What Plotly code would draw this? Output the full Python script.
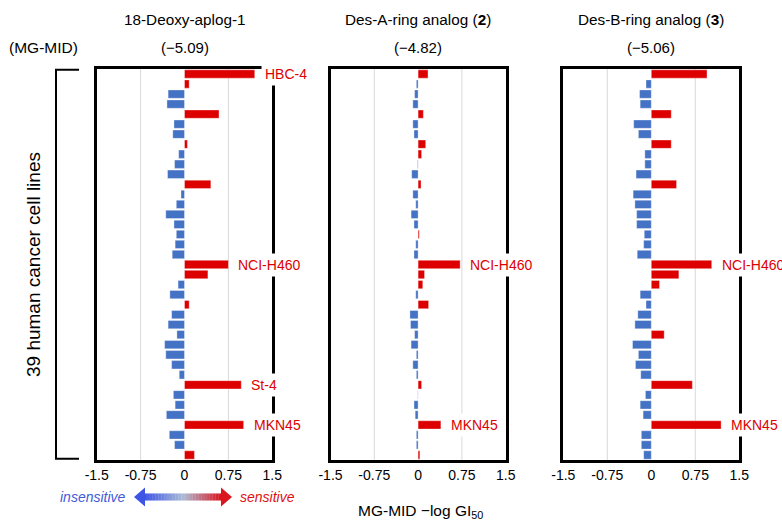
import plotly.graph_objects as go

W, H = 782, 521
FONT = "Liberation Sans, Arial, sans-serif"

# ---------------- data ----------------
cells = list(range(1, 40))  # 39 human cancer cell lines (top to bottom)

deoxy_aplog1 = [1.20, 0.08, -0.28, -0.30, 0.59, -0.18, -0.20, 0.05, -0.10, -0.17,
                -0.29, 0.45, -0.06, -0.14, -0.32, -0.18, -0.14, -0.16, -0.21, 0.75,
                0.40, -0.11, -0.25, 0.08, -0.22, -0.28, -0.13, -0.34, -0.32, -0.22,
                -0.09, 0.97, -0.19, -0.16, -0.31, 1.01, -0.26, -0.17, 0.17]

des_a_ring = [0.17, -0.03, -0.06, -0.09, 0.09, -0.09, -0.07, 0.13, 0.06, -0.01,
              -0.11, 0.05, -0.09, -0.04, -0.12, -0.07, 0.02, -0.04, -0.07, 0.72,
              0.11, 0.08, -0.04, 0.18, -0.14, -0.13, -0.06, -0.12, -0.03, -0.09,
              -0.03, 0.06, -0.005, -0.07, -0.05, 0.39, -0.03, -0.03, 0.03]

des_b_ring = [0.95, -0.09, -0.20, -0.19, 0.34, -0.30, -0.22, 0.34, -0.11, -0.11,
              -0.26, 0.43, -0.31, -0.28, -0.25, -0.25, -0.12, -0.13, -0.24, 1.03,
              0.47, 0.14, -0.19, -0.09, -0.23, -0.28, 0.22, -0.32, -0.22, -0.27,
              -0.18, 0.70, -0.10, -0.19, -0.14, 1.19, -0.17, -0.17, -0.13]

panel_titles = ["18-Deoxy-aplog-1", "Des-A-ring analog (<b>2</b>)", "Des-B-ring analog (<b>3</b>)"]
mg_mid = ["(\u22125.09)", "(\u22124.82)", "(\u22125.06)"]

labels_deoxy = {1: "HBC-4", 20: "NCI-H460", 32: "St-4", 36: "MKN45"}
labels_a = {20: "NCI-H460", 36: "MKN45"}
labels_b = {20: "NCI-H460", 36: "MKN45"}

tick_vals = [-1.5, -0.75, 0, 0.75, 1.5]
tick_text = ["-1.5", "-0.75", "0", "0.75", "1.5"]

# ---------------- layout helpers ----------------
def fx(px):
    return px / W

def fy(py):
    return 1 - py / H

RED = "#DD0000"
BLUE = "#4472C4"

panels = [
    (deoxy_aplog1, labels_deoxy, (96.7, 272.3)),
    (des_a_ring, labels_a, (330.5, 505.7)),
    (des_b_ring, labels_b, (563.3, 739.3)),
]
y_dom = [fy(460), fy(69)]

fig = go.Figure()
annotations = []
shapes = []

def txt(x, y, text, size, color="black", xanchor="center", angle=0):
    return dict(x=fx(x), y=fy(y), xref="paper", yref="paper", text=text,
                showarrow=False, xanchor=xanchor, yanchor="middle", textangle=angle,
                font=dict(family=FONT, size=size, color=color))

for i, (vals, labs, (x0, x1)) in enumerate(panels):
    n = "" if i == 0 else str(i + 1)
    xa, ya = "x" + n, "y" + n
    fig.add_trace(go.Bar(
        x=vals, y=cells, orientation="h",
        marker=dict(color=[RED if v > 0 else BLUE for v in vals],
                    line=dict(color="rgba(255,255,255,0.45)", width=0.8)),
        xaxis=xa, yaxis=ya, showlegend=False, hoverinfo="x+y",
    ))
    fig.update_layout(**{
        "xaxis" + n: dict(domain=[fx(x0), fx(x1)], range=[-1.5, 1.5], anchor=ya,
                          tickvals=tick_vals, ticktext=tick_text, showgrid=False,
                          zeroline=False, showline=True, linecolor="black", linewidth=2.5,
                          mirror=True, ticks="", ticklabelstandoff=0, automargin=False,
                          tickfont=dict(family=FONT, size=14, color="black"), fixedrange=True),
        "yaxis" + n: dict(domain=y_dom, range=[39.5, 0.5], anchor=xa, showticklabels=False,
                          showgrid=False, zeroline=False, showline=True, linecolor="black",
                          linewidth=2.5, mirror=True, ticks="", automargin=False,
                          fixedrange=True),
    })
    for gv in (-0.75, 0.75):
        shapes.append(dict(type="line", xref=xa, yref="paper", x0=gv, x1=gv,
                           y0=y_dom[0], y1=y_dom[1], layer="below",
                           line=dict(color="#D9D9D9", width=1)))
    for idx, t in labs.items():
        annotations.append(dict(x=vals[idx - 1], y=idx, xref=xa, yref=ya, text=t,
                                showarrow=False, xanchor="left", yanchor="middle",
                                xshift=6, bgcolor="white", borderpad=3,
                                font=dict(family=FONT, size=14, color=RED)))
    xc = (x0 + x1) / 2
    annotations.append(txt(xc, 19, panel_titles[i], 15.3))
    annotations.append(txt(xc, 47, mg_mid[i], 15))

annotations.append(txt(43, 47, "(MG-MID)", 15.5))
annotations.append(txt(33, 265, "39 human cancer cell lines", 19, angle=-90))
annotations.append(txt(420, 511, "MG-MID \u2212log GI<sub>50</sub>", 15.5))
annotations.append(txt(128, 497, "<i>insensitive</i>", 14, "#3F5BD8", xanchor="right"))
annotations.append(txt(238, 497, "<i>sensitive</i>", 14, "#DD1111", xanchor="left"))

# left bracket
shapes.append(dict(type="path", xref="paper", yref="paper",
                   path=f"M {fx(79)},{fy(69.7)} L {fx(56)},{fy(69.7)} L {fx(56)},{fy(458.7)} L {fx(79)},{fy(458.7)}",
                   line=dict(color="black", width=2)))

# gradient double arrow
c_left, c_mid, c_right = (60, 85, 228), (172, 188, 215), (218, 22, 32)

def lerp(a, b, t):
    return tuple(int(round(a[k] + (b[k] - a[k]) * t)) for k in range(3))

ax0, ax1 = 144.5, 221.5
nseg = 50
for s in range(nseg):
    t = s / (nseg - 1)
    c = lerp(c_left, c_mid, t * 2) if t < 0.5 else lerp(c_mid, c_right, (t - 0.5) * 2)
    xa0 = ax0 + (ax1 - ax0) * s / nseg
    xa1 = ax0 + (ax1 - ax0) * (s + 1) / nseg + 0.3
    shapes.append(dict(type="rect", xref="paper", yref="paper",
                       x0=fx(xa0), x1=fx(xa1), y0=fy(500.5), y1=fy(493.5),
                       fillcolor=f"rgb{c}", line=dict(width=0)))
shapes.append(dict(type="path", xref="paper", yref="paper",
                   path=f"M {fx(134)},{fy(497)} L {fx(145)},{fy(487.5)} L {fx(145)},{fy(506.5)} Z",
                   fillcolor=f"rgb{c_left}", line=dict(width=0)))
shapes.append(dict(type="path", xref="paper", yref="paper",
                   path=f"M {fx(232)},{fy(497)} L {fx(221)},{fy(487.5)} L {fx(221)},{fy(506.5)} Z",
                   fillcolor=f"rgb{c_right}", line=dict(width=0)))

fig.update_layout(
    width=W, height=H, autosize=False,
    margin=dict(l=0, r=0, t=0, b=0, pad=0, autoexpand=False),
    paper_bgcolor="white", plot_bgcolor="white",
    bargap=0.17, annotations=annotations, shapes=shapes,
    font=dict(family=FONT, color="black"),
)

fig.write_html("out.html",
               config={"displayModeBar": False},
               post_script="document.body.style.margin='0px';document.body.style.overflow='hidden';")
